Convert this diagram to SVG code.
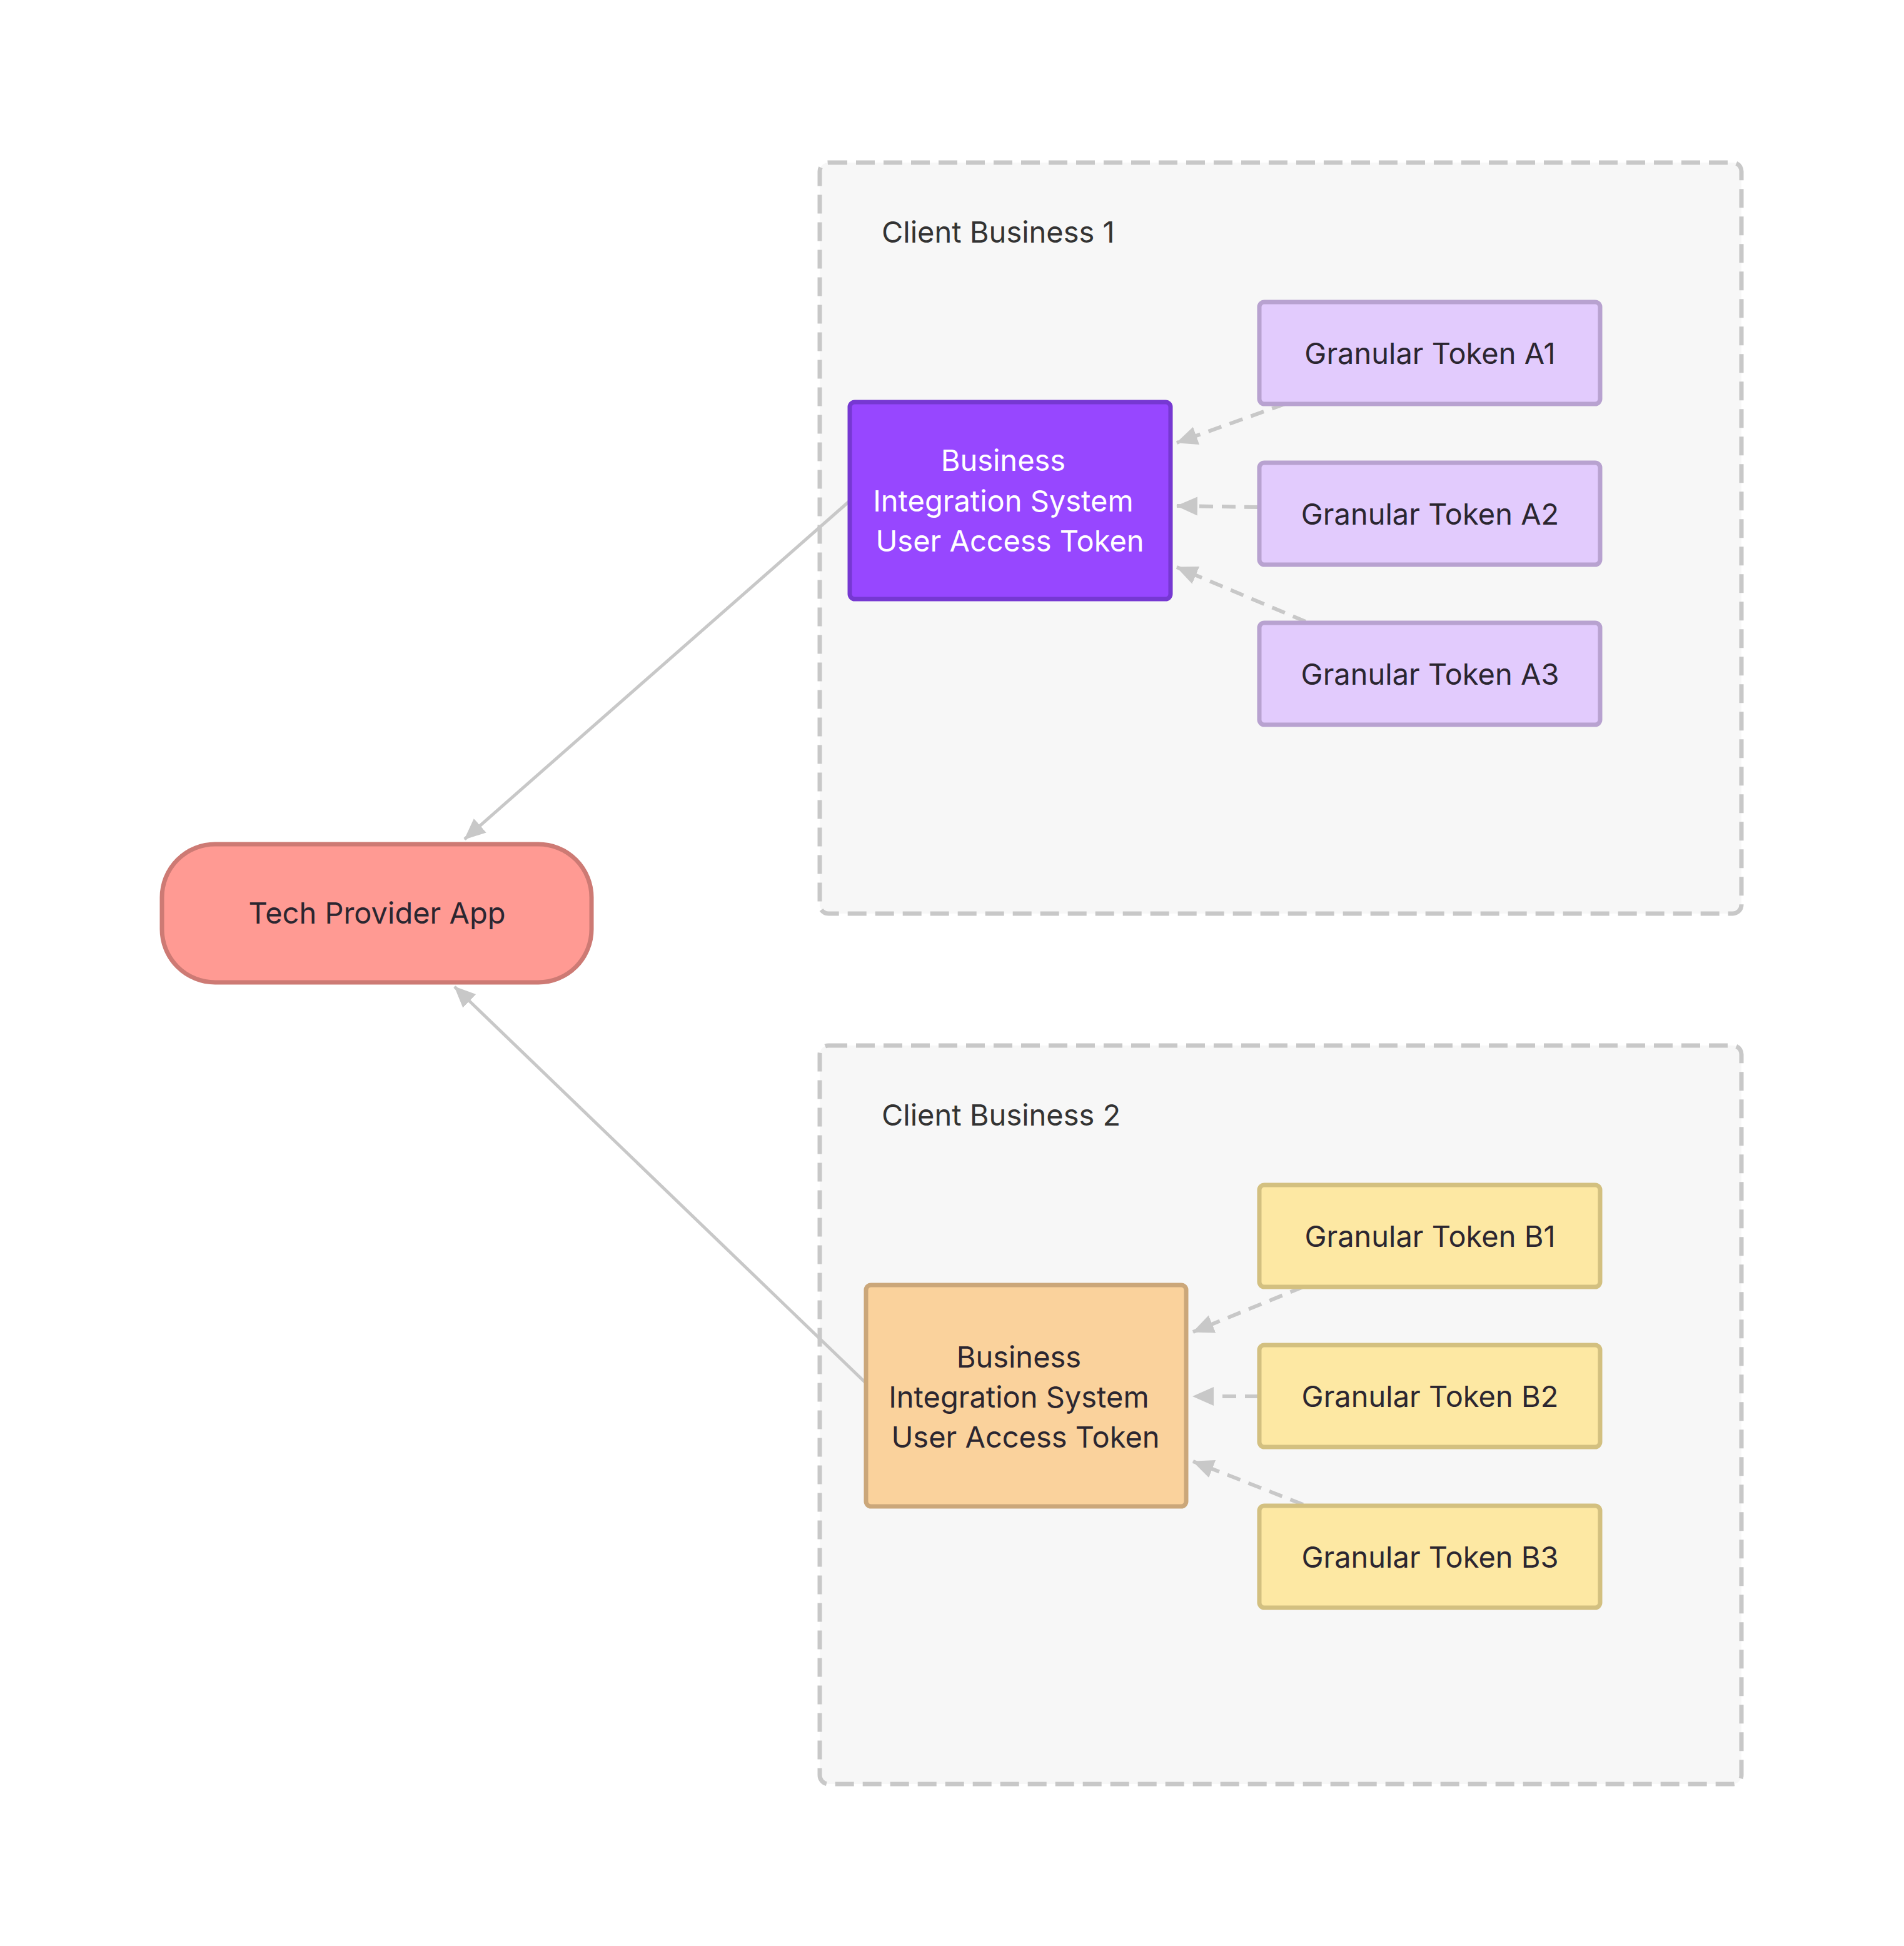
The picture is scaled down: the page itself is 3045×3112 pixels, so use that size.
<svg xmlns="http://www.w3.org/2000/svg" width="3045" height="3112" viewBox="0 0 3045 3112">
<style>
.cluster{fill:#f7f7f7;stroke:#c8c8c8;stroke-width:7;stroke-dasharray:30 14}
.clabel{font-family:Inter,"Noto Sans","Liberation Sans",sans-serif;font-size:47px;fill:#333333}
.ntext{font-family:Inter,"Noto Sans","Liberation Sans",sans-serif;font-size:47px;fill:#2b2630;text-anchor:middle}
.tokA{fill:#e2cbfd;stroke:#b8a2d0;stroke-width:7}
.tokB{fill:#fde8a3;stroke:#d3c080;stroke-width:7}
.bis1{fill:#9747ff;stroke:#7638d2;stroke-width:7}
.bis2{fill:#fad29c;stroke:#cba77a;stroke-width:7}
.app{fill:#ff9a93;stroke:#cd7a74;stroke-width:7}
.solid{fill:none;stroke:#c8c8c8;stroke-width:5}
.dash{fill:none;stroke:#c8c8c8;stroke-width:6;stroke-dasharray:22 14}
</style>
<defs>
<marker id="ah" markerUnits="userSpaceOnUse" markerWidth="34" markerHeight="32" viewBox="0 0 34 32" refX="33" refY="16" orient="auto">
<path d="M0,1 L34,16 L0,31 z" fill="#c8c8c8"/>
</marker>
</defs>
<rect width="3045" height="3112" fill="#ffffff"/>

<g id="cluster1">
<rect class="cluster" x="1311" y="260" width="1474" height="1201" rx="14"/>
<text class="clabel" x="1410" y="388">Client Business 1</text>
</g>
<g id="cluster2">
<rect class="cluster" x="1311" y="1672" width="1474" height="1181" rx="14"/>
<text class="clabel" x="1410" y="1800">Client Business 2</text>
</g>

<g id="connectors">
<path class="solid" d="M1360,800 L743,1342" marker-end="url(#ah)"/>
<path class="solid" d="M1385,2212 L727,1578" marker-end="url(#ah)"/>
<path class="dash" d="M2055,646 L1882,708" marker-end="url(#ah)"/>
<path class="dash" d="M2012,811 L1882,809" marker-end="url(#ah)"/>
<path class="dash" d="M2088,994 L1882,907" marker-end="url(#ah)"/>
<path class="dash" d="M2084,2058 L1908,2130" marker-end="url(#ah)"/>
<path class="dash" d="M2013,2233 L1908,2233" marker-end="url(#ah)"/>
<path class="dash" d="M2084,2406 L1908,2337" marker-end="url(#ah)"/>
</g>

<g id="tech-provider-app">
<rect class="app" x="259" y="1350" width="687" height="221" rx="85"/>
<text class="ntext" x="603" y="1477">Tech Provider App</text>
</g>

<g id="bisuat1">
<rect class="bis1" x="1359" y="643" width="513" height="315" rx="8"/>
<text class="ntext" style="fill:#ffffff">
<tspan x="1611" y="753">Business</tspan>
<tspan x="1611" y="818">Integration System</tspan>
<tspan x="1615" y="882">User Access Token</tspan>
</text>
</g>

<g id="tokenA1">
<rect class="tokA" x="2014" y="483" width="545" height="163" rx="8"/>
<text class="ntext" x="2287" y="582">Granular Token A1</text>
</g>
<g id="tokenA2">
<rect class="tokA" x="2014" y="740" width="545" height="163" rx="8"/>
<text class="ntext" x="2287" y="839">Granular Token A2</text>
</g>
<g id="tokenA3">
<rect class="tokA" x="2014" y="996" width="545" height="163" rx="8"/>
<text class="ntext" x="2287" y="1095">Granular Token A3</text>
</g>

<g id="bisuat2">
<rect class="bis2" x="1385" y="2055" width="512" height="354" rx="8"/>
<text class="ntext">
<tspan x="1636" y="2187">Business</tspan>
<tspan x="1636" y="2251">Integration System</tspan>
<tspan x="1640" y="2315">User Access Token</tspan>
</text>
</g>

<g id="tokenB1">
<rect class="tokB" x="2014" y="1895" width="545" height="163" rx="8"/>
<text class="ntext" x="2287" y="1994">Granular Token B1</text>
</g>
<g id="tokenB2">
<rect class="tokB" x="2014" y="2151" width="545" height="163" rx="8"/>
<text class="ntext" x="2287" y="2250">Granular Token B2</text>
</g>
<g id="tokenB3">
<rect class="tokB" x="2014" y="2408" width="545" height="163" rx="8"/>
<text class="ntext" x="2287" y="2507">Granular Token B3</text>
</g>
</svg>
